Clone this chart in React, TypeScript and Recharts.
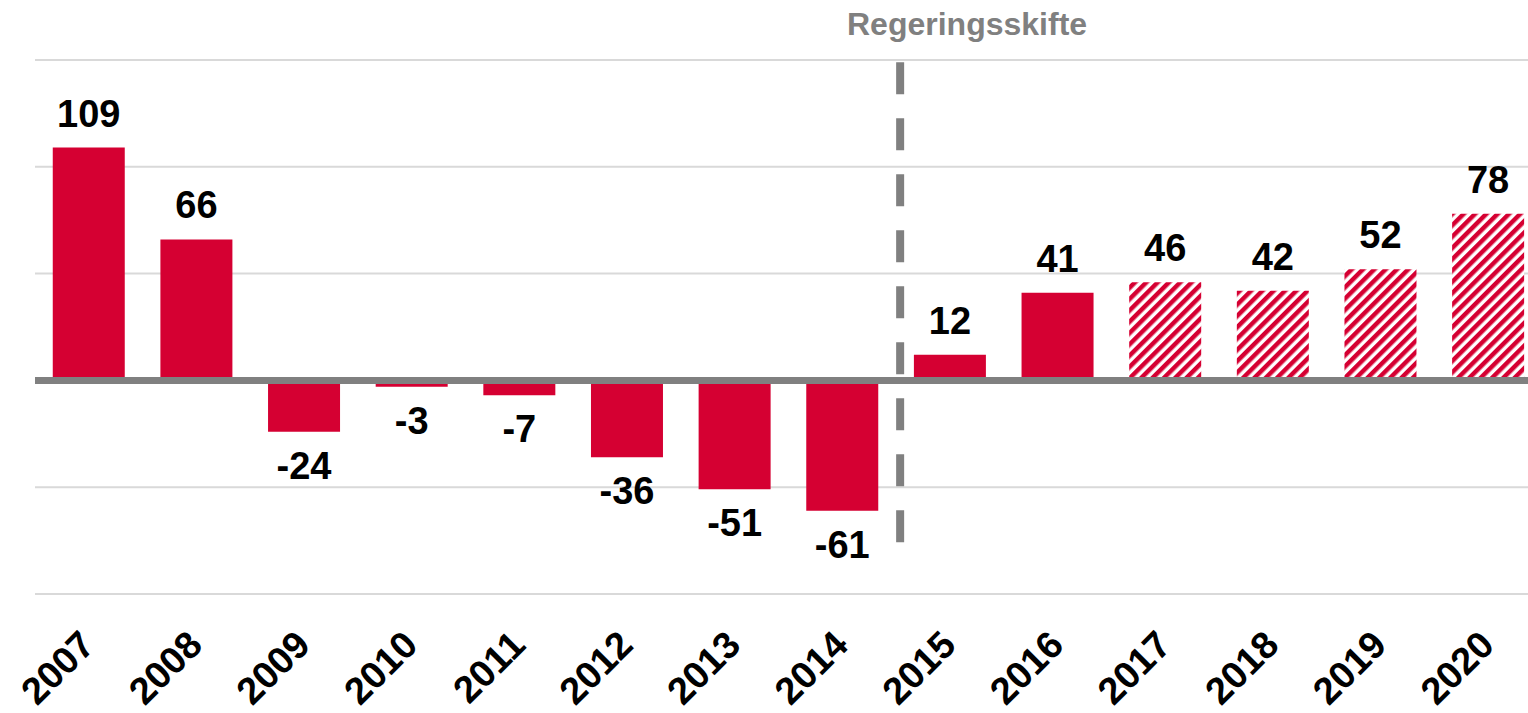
import React from "react";
import {
  BarChart,
  Bar,
  XAxis,
  YAxis,
  CartesianGrid,
  ReferenceLine,
  LabelList,
  Cell,
} from "recharts";

// år och värden (mdkr)
const YEARS = ["2007", "2008", "2009", "2010", "2011", "2012", "2013", "2014", "2015", "2016", "2017", "2018", "2019", "2020"];
const VALUES = [109, 66, -24, -3, -7, -36, -51, -61, 12, 41, 46, 42, 52, 78];
// prognosår (streckade staplar)
const FORECAST = [false, false, false, false, false, false, false, false, false, false, true, true, true, true];
const Y_TICKS = [-100, -50, 0, 50, 100, 150];
// regeringsskifte mellan 2014 och 2015
const SHIFT_YEAR = "2015";

const RED = "#d50032";
const GREY = "#808080";
const FONT = "'Liberation Sans', Arial, sans-serif";

const data = YEARS.map((year, i) => ({ year, value: VALUES[i], forecast: FORECAST[i] }));

const YearTick = (props: any) => {
  const { x, y, payload } = props;
  const ax = x + 8;
  const ay = y + 53;
  return (
    <text
      x={ax}
      y={ay}
      transform={`rotate(-45, ${ax}, ${ay})`}
      textAnchor="end"
      fontFamily={FONT}
      fontWeight="bold"
      fontSize={38}
      fill="#000"
    >
      {payload.value}
    </text>
  );
};

const ValueLabel = (props: any) => {
  const { x, y, width, height, value } = props;
  const top = Math.min(y, y + height);
  const bottom = Math.max(y, y + height);
  const cy = value >= 0 ? top - 34 : bottom + 34;
  return (
    <text
      x={x + width / 2}
      y={cy}
      textAnchor="middle"
      dominantBaseline="central"
      fontFamily={FONT}
      fontWeight="bold"
      fontSize={38}
      fill="#000"
    >
      {value}
    </text>
  );
};

// streckad linje, något förskjuten åt höger som i originalet
const ShiftLine = (props: any) => {
  const { x1, y1, x2, y2 } = props;
  return (
    <line
      x1={x1 + 4}
      y1={y1}
      x2={x2 + 4}
      y2={y2}
      stroke={GREY}
      strokeWidth={8}
      strokeDasharray="32 24"
    />
  );
};

export default function App() {
  return (
    <div
      style={{
        position: "fixed",
        left: 0,
        top: 0,
        width: 1528,
        height: 713,
        overflow: "hidden",
        background: "#fff",
      }}
    >
      <BarChart
        width={1560}
        height={713}
        data={data}
        margin={{ top: 60, right: 18, left: 35, bottom: 0 }}
        barCategoryGap="16.5%"
      >
        <defs>
          <pattern
            id="hatch"
            width={8}
            height={8}
            patternUnits="userSpaceOnUse"
            patternTransform="rotate(45)"
          >
            <rect width={8} height={8} fill="#fff" />
            <rect width={4.5} height={8} fill={RED} />
          </pattern>
        </defs>
        <CartesianGrid vertical={false} stroke="#d9d9d9" strokeWidth={2} />
        <XAxis
          dataKey="year"
          axisLine={false}
          tickLine={false}
          tickSize={0}
          tickMargin={0}
          interval={0}
          height={119}
          tick={<YearTick />}
        />
        <YAxis hide domain={[-100, 150]} ticks={Y_TICKS} />
        <Bar dataKey="value" isAnimationActive={false}>
          {data.map((d) => (
            <Cell key={d.year} fill={d.forecast ? "url(#hatch)" : RED} />
          ))}
          <LabelList dataKey="value" content={<ValueLabel />} />
        </Bar>
        <ReferenceLine y={0} stroke={GREY} strokeWidth={7} />
        <ReferenceLine
          position="start"
          segment={[
            { x: SHIFT_YEAR, y: 149 },
            { x: SHIFT_YEAR, y: -76 },
          ]}
          shape={<ShiftLine />}
        />
      </BarChart>
      <div
        style={{
          position: "absolute",
          left: 847,
          top: 7,
          fontFamily: FONT,
          fontWeight: "bold",
          fontSize: 32,
          color: GREY,
          lineHeight: "34px",
          whiteSpace: "nowrap",
        }}
      >
        Regeringsskifte
      </div>
    </div>
  );
}
